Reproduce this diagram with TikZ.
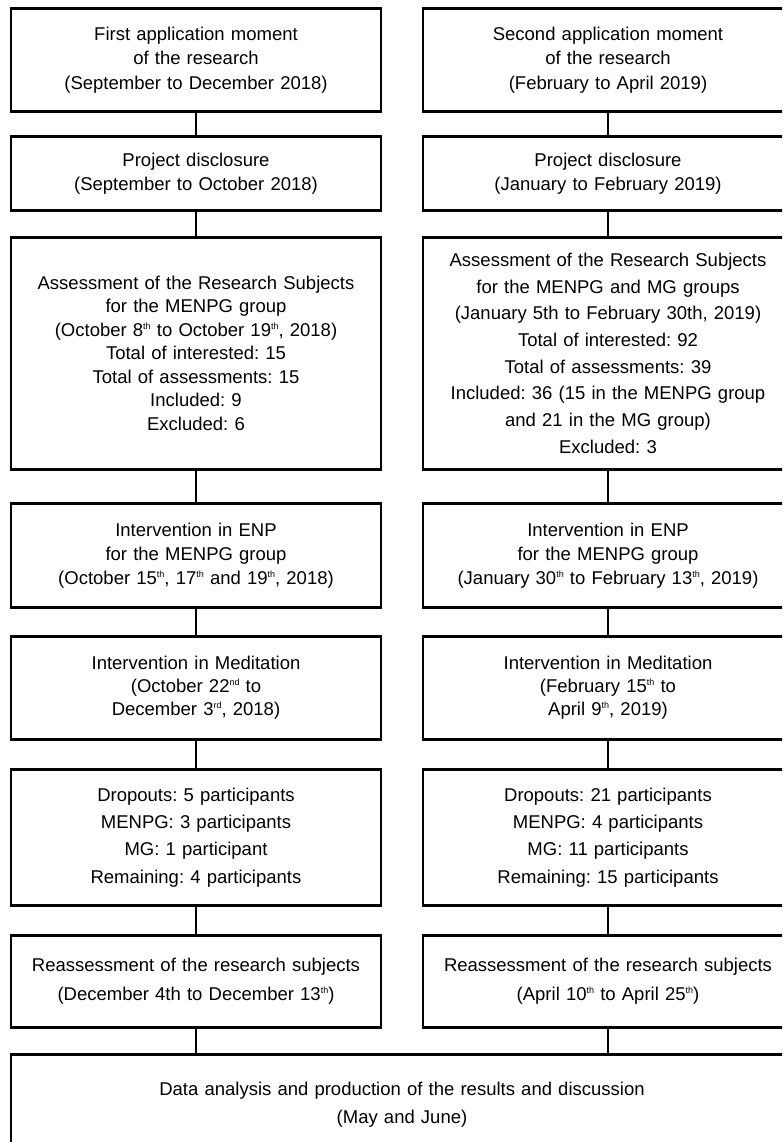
\documentclass[tikz,border=0pt]{standalone}
\usepackage{fontspec}
\setmainfont{Liberation Sans}
\usetikzlibrary{positioning}
\newcommand{\ordsup}[1]{\raisebox{0.7ex}{\fontsize{9}{9}\selectfont #1}}

\begin{document}
\frenchspacing
\begin{tikzpicture}[x=1pt, y=-1pt,
    stage/.style={draw, line width=2.6pt, anchor=north, minimum width=370pt, text width=362pt,
        inner sep=0pt, align=center, font=\fontsize{18.5}{#1}\selectfont},
    stage/.default=24,
    link/.style={line width=2.2pt}]
    % Khung ảnh (cắt ở mép phải và mép dưới như bản gốc)
    \useasboundingbox (0,0) rectangle (782,1142);
    \clip (0,0) rectangle (782,1142);

    % Cột trái: lần áp dụng thứ nhất
    \node[stage=24.5, minimum height=103pt] (l1) at (196,7) {First application moment\\of the research\\(September to December 2018)};
    \node[stage, minimum height=74pt] (l2) at (196,135) {Project disclosure\\(September to October 2018)};
    \node[stage=23.5, minimum height=232pt] (l3) at (196,236) {Assessment of the Research Subjects\\for the MENPG group\\(October 8\ordsup{th} to October 19\ordsup{th}, 2018)\\Total of interested: 15\\Total of assessments: 15\\Included: 9\\Excluded: 6};
    \node[stage, minimum height=104pt] (l4) at (196,502) {Intervention in ENP\\for the MENPG group\\(October 15\ordsup{th}, 17\ordsup{th} and 19\ordsup{th}, 2018)};
    \node[stage=23, minimum height=103pt] (l5) at (196,635) {Intervention in Meditation\\(October 22\ordsup{nd} to\\December 3\ordsup{rd}, 2018)};
    \node[stage=27.3, minimum height=136pt] (l6) at (196,768) {Dropouts: 5 participants\\MENPG: 3 participants\\MG: 1 participant\\Remaining: 4 participants};
    \node[stage=29, minimum height=92pt] (l7) at (196,934) {Reassessment of the research subjects\\(December 4th to December 13\ordsup{th})};

    % Cột phải: lần áp dụng thứ hai
    \node[stage=24.5, minimum height=103pt] (r1) at (608,7) {Second application moment\\of the research\\(February to April 2019)};
    \node[stage, minimum height=74pt] (r2) at (608,135) {Project disclosure\\(January to February 2019)};
    \node[stage=26.7, minimum height=232pt] (r3) at (608,236) {Assessment of the Research Subjects\\for the MENPG and MG groups\\(January 5th to February 30th, 2019)\\Total of interested: 92\\Total of assessments: 39\\Included: 36 (15 in the MENPG group\\and 21 in the MG group)\\Excluded: 3};
    \node[stage, minimum height=104pt] (r4) at (608,502) {Intervention in ENP\\for the MENPG group\\(January 30\ordsup{th} to February 13\ordsup{th}, 2019)};
    \node[stage=23, minimum height=103pt] (r5) at (608,635) {Intervention in Meditation\\(February 15\ordsup{th} to\\April 9\ordsup{th}, 2019)};
    \node[stage=27.3, minimum height=136pt] (r6) at (608,768) {Dropouts: 21 participants\\MENPG: 4 participants\\MG: 11 participants\\Remaining: 15 participants};
    \node[stage=29, minimum height=92pt] (r7) at (608,934) {Reassessment of the research subjects\\(April 10\ordsup{th} to April 25\ordsup{th})};

    % Hộp chung cuối cùng
    \node[stage=28, minimum width=782pt, text width=760pt, minimum height=100pt] (fin) at (402,1053) {Data analysis and production of the results and discussion\\(May and June)};

    % Các đường nối
    \foreach \c in {l,r} {
        \draw[link] (\c1) -- (\c2);
        \draw[link] (\c2) -- (\c3);
        \draw[link] (\c3) -- (\c4);
        \draw[link] (\c4) -- (\c5);
        \draw[link] (\c5) -- (\c6);
        \draw[link] (\c6) -- (\c7);
        \draw[link] (\c7) -- (\c7 |- fin.north);
    }
\end{tikzpicture}
\end{document}
